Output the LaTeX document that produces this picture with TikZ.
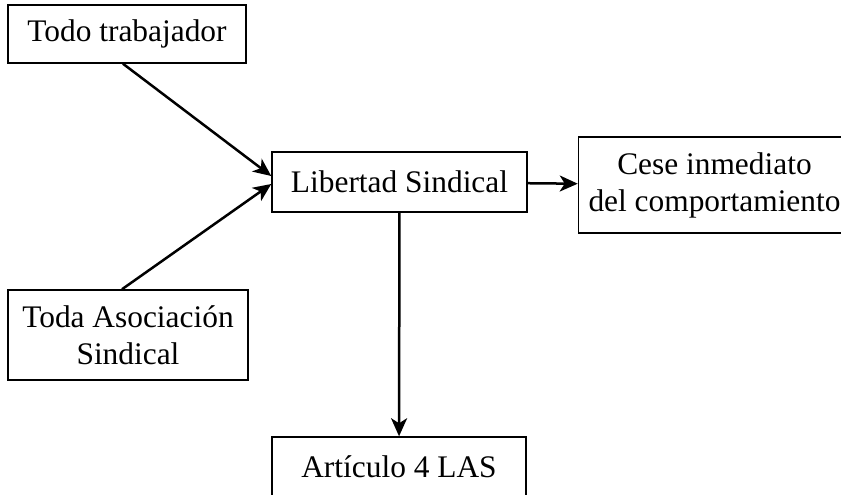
\documentclass[tikz,border=0pt]{standalone}
\usepackage{fontspec}
\setmainfont{Liberation Serif}
\usetikzlibrary{positioning,arrows.meta}

\begin{document}
\begin{tikzpicture}[
  x=0.5pt, y=-0.5pt,
  bx/.style={rectangle, draw=black, line width=0.75pt, inner sep=0pt,
             minimum width=#1, align=center,
             font=\fontsize{15.7pt}{18.5pt}\selectfont},
  ar/.style={-{Stealth[length=9pt, width=8pt, inset=2.5pt]}, line width=1.25pt}
]
\useasboundingbox (0,0) rectangle (841,494);

\node[bx=119pt,   minimum height=29pt] (trab) at (127,34)  {Todo trabajador};
\node[bx=127.5pt, minimum height=30pt] (lib)  at (399.5,182) {Libertad Sindical};
\node[bx=136pt,   minimum height=48pt] (cese) at (714.5,185) {Cese inmediato\\del comportamiento};
\node[bx=120pt,   minimum height=45pt] (asoc) at (128,335) {Toda Asociación\\Sindical};
\node[bx=127pt,   minimum height=30pt] (art)  at (399,467) {Artículo 4 LAS};

\draw[ar] ([xshift=-2pt]trab.south) -- ([yshift=3pt]lib.west);
\draw[ar] ([xshift=-3pt]asoc.north) -- ([yshift=-1pt]lib.west);
\draw[ar] (lib) -- (cese);
\draw[ar] (lib) -- (art);

\end{tikzpicture}
\end{document}
